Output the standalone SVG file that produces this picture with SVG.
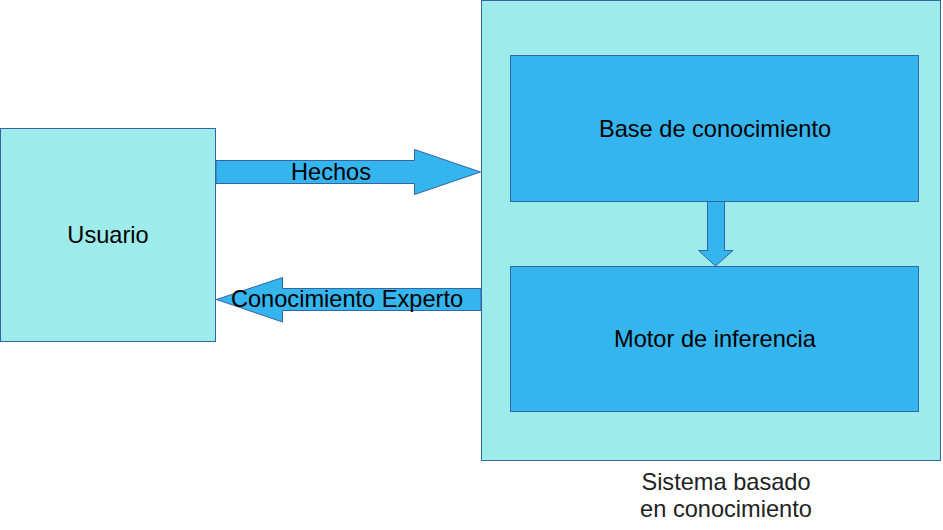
<svg xmlns="http://www.w3.org/2000/svg" width="943" height="530" viewBox="0 0 943 530">
<style>
.light{fill:#9eebeb;stroke:#3465a4;stroke-width:1}
.blue{fill:#35b5ee;stroke:#3465a4;stroke-width:1}
.arrow{fill:#35b5ee;stroke:#3465a4;stroke-width:1;stroke-linejoin:miter}
text{font-family:"Liberation Sans",Arial,sans-serif;font-size:23.6px;fill:#000;text-anchor:middle}
.cap{fill:#222}
</style>
<rect width="943" height="530" fill="#fff"/>
<g id="sistema">
<rect class="light" x="481.5" y="0.5" width="459" height="460"/>
<text class="cap" x="726" y="490">Sistema basado</text>
<text class="cap" x="726" y="517">en conocimiento</text>
</g>
<g id="usuario">
<rect class="light" x="0.5" y="128.5" width="215" height="213"/>
<text x="108" y="243">Usuario</text>
</g>
<g id="base">
<rect class="blue" x="510.5" y="55.5" width="408" height="146"/>
<text x="715" y="137">Base de conocimiento</text>
</g>
<g id="motor">
<rect class="blue" x="510.5" y="266.5" width="408" height="145"/>
<text x="715" y="347">Motor de inferencia</text>
</g>
<g id="connectors">
<polygon class="arrow" points="216,160.5 414.5,160.5 414.5,149.5 480.5,172 414.5,194.5 414.5,183.5 216,183.5"/>
<text x="331" y="180">Hechos</text>
<polygon class="arrow" points="481,288.5 282.5,288.5 282.5,277.5 216.5,299.5 282.5,322 282.5,310.5 481,310.5"/>
<text x="347" y="307">Conocimiento Experto</text>
<polygon class="arrow" points="707.5,201.5 724.5,201.5 724.5,250.5 733,250.5 715.5,266 698.5,250.5 707.5,250.5"/>
</g>
</svg>
